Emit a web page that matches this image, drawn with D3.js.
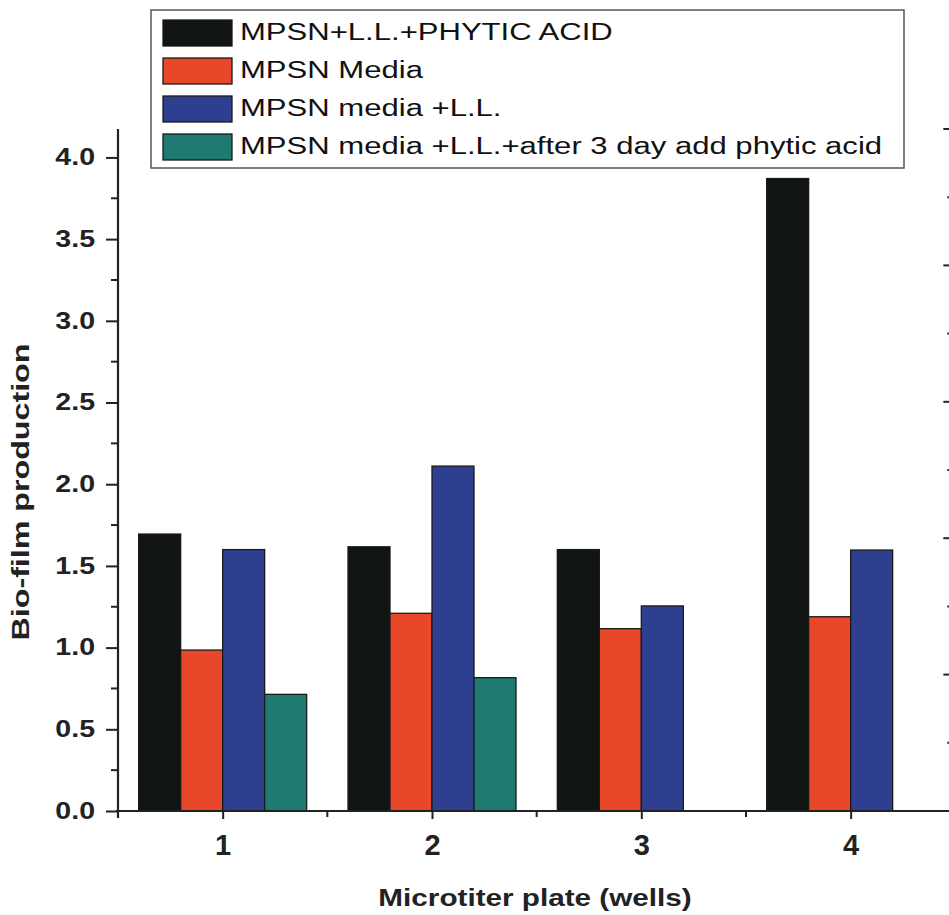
<!DOCTYPE html>
<html>
<head>
<meta charset="utf-8">
<script src="https://cdn.jsdelivr.net/npm/d3@7"></script>
<style>
  html, body { margin: 0; padding: 0; background: #fff; }
  svg { display: block; font-family: "Liberation Sans", Arial, sans-serif; }
</style>
</head>
<body>
<svg id="chart" width="949" height="915"></svg>
<script>
const categories = ["1", "2", "3", "4"];
const seriesNames = [
  "MPSN+L.L.+PHYTIC ACID",
  "MPSN Media",
  "MPSN media +L.L.",
  "MPSN media +L.L.+after 3 day add phytic acid"
];
const seriesColors = ["#111512", "#e8472a", "#2f3f8f", "#1f7a72"];
const phyticValues   = [1.695, 1.617, 1.60, 3.871];
const mediaValues    = [0.985, 1.21, 1.116, 1.189];
const mediaLLValues  = [1.60, 2.111, 1.255, 1.597];
const after3Values   = [0.714, 0.816, null, null];
const seriesValues = [phyticValues, mediaValues, mediaLLValues, after3Values];
const yTicks = [0.0, 0.5, 1.0, 1.5, 2.0, 2.5, 3.0, 3.5, 4.0];
const xTitle = "Microtiter plate (wells)";
const yTitle = "Bio-film production";

const svg = d3.select("#chart");
const plotLeft = 118, plotBottom = 811, plotTop = 129;
const catStep = 209.33;
const textStretch = 1.35; // reference glyphs are wider than Liberation Sans

const x = d3.scaleLinear().domain([0.5, 4.5]).range([plotLeft, plotLeft + 4 * catStep]);
const y = d3.scaleLinear().domain([0, 4.174]).range([plotBottom, plotTop]);
const yRight = d3.scaleLinear().domain([0, 5]).range([plotBottom, plotTop]);
const barW = 42;

function stretch(sel, factor) {
  sel.each(function () {
    const w = this.getComputedTextLength();
    d3.select(this).attr("textLength", w * factor).attr("lengthAdjust", "spacingAndGlyphs");
  });
}

// bars
seriesValues.forEach((vals, si) => {
  svg.append("g").selectAll("rect")
    .data(vals.map((v, i) => ({v, i})).filter(d => d.v !== null))
    .join("rect")
    .attr("x", d => x(d.i + 1) + (si - 2) * barW)
    .attr("y", d => y(d.v))
    .attr("width", barW)
    .attr("height", d => y(0) - y(d.v))
    .attr("fill", seriesColors[si])
    .attr("stroke", "#1a1a1a")
    .attr("stroke-width", 1.3);
});

// left axis
const yAxis = d3.axisLeft(y).tickValues(yTicks).tickFormat(d3.format(".1f")).tickSize(12).tickPadding(11);
const gy = svg.append("g").attr("transform", `translate(${plotLeft},0)`).call(yAxis);
gy.select(".domain").remove();
gy.selectAll(".tick line").attr("stroke", "#222").attr("stroke-width", 2);
gy.selectAll(".tick text").attr("font-size", 23).attr("font-weight", "bold").attr("fill", "#222");
stretch(gy.selectAll(".tick text"), 1.24);
const yMinor = d3.range(0.25, 4.1, 0.5);
svg.append("g").selectAll("line").data(yMinor).join("line")
  .attr("x1", plotLeft - 7).attr("x2", plotLeft).attr("y1", d => y(d)).attr("y2", d => y(d))
  .attr("stroke", "#222").attr("stroke-width", 2);
svg.append("line").attr("x1", plotLeft).attr("x2", plotLeft).attr("y1", plotTop).attr("y2", plotBottom + 7)
  .attr("stroke", "#222").attr("stroke-width", 2.2);

// right axis (ticks only; labels off-canvas)
const rightX = x(4.5);
svg.append("g").selectAll("line").data(d3.range(0, 5.01, 1)).join("line")
  .attr("x1", rightX - 12).attr("x2", rightX).attr("y1", d => yRight(d)).attr("y2", d => yRight(d))
  .attr("stroke", "#222").attr("stroke-width", 2);
svg.append("g").selectAll("line").data(d3.range(0.5, 5, 1)).join("line")
  .attr("x1", rightX - 8).attr("x2", rightX).attr("y1", d => yRight(d)).attr("y2", d => yRight(d))
  .attr("stroke", "#222").attr("stroke-width", 2);

// x axis
const xAxis = d3.axisBottom(x).tickValues([1, 2, 3, 4]).tickFormat((d, i) => categories[i]).tickSize(8);
const gx = svg.append("g").attr("transform", `translate(0,${plotBottom})`).call(xAxis);
gx.select(".domain").remove();
gx.selectAll(".tick line").attr("stroke", "#222").attr("stroke-width", 2);
gx.selectAll(".tick text").attr("font-size", 29).attr("font-weight", "bold").attr("fill", "#222")
  .attr("dy", null).attr("y", 44);
svg.append("g").selectAll("line").data([0.5, 1.5, 2.5, 3.5]).join("line")
  .attr("x1", d => x(d)).attr("x2", d => x(d)).attr("y1", plotBottom).attr("y2", plotBottom + 6)
  .attr("stroke", "#222").attr("stroke-width", 2);
svg.append("line").attr("x1", plotLeft - 2).attr("x2", 949).attr("y1", plotBottom).attr("y2", plotBottom)
  .attr("stroke", "#222").attr("stroke-width", 2.2);

// titles
const xt = svg.append("text").attr("x", 535).attr("y", 906).attr("text-anchor", "middle")
  .attr("font-size", 23).attr("font-weight", "bold").attr("fill", "#222").text(xTitle);
stretch(xt, 1.29);
const yt = svg.append("text").attr("transform", "translate(29,492) rotate(-90)").attr("text-anchor", "middle")
  .attr("font-size", 23).attr("font-weight", "bold").attr("fill", "#222").text(yTitle);
stretch(yt, 1.4);

// legend
const lg = svg.append("g");
lg.append("rect").attr("x", 151).attr("y", 10).attr("width", 753).attr("height", 158)
  .attr("fill", "#fff").attr("stroke", "#555").attr("stroke-width", 1.5);
seriesNames.forEach((name, i) => {
  const ry = 20 + i * 38;
  lg.append("rect").attr("x", 163).attr("y", ry).attr("width", 69).attr("height", 26)
    .attr("fill", seriesColors[i]).attr("stroke", "#1a1a1a").attr("stroke-width", 1.3);
  const t = lg.append("text").attr("x", 240).attr("y", ry + 20).attr("font-size", 23)
    .attr("fill", "#111").text(name);
  stretch(t, textStretch);
});
</script>
</body>
</html>
